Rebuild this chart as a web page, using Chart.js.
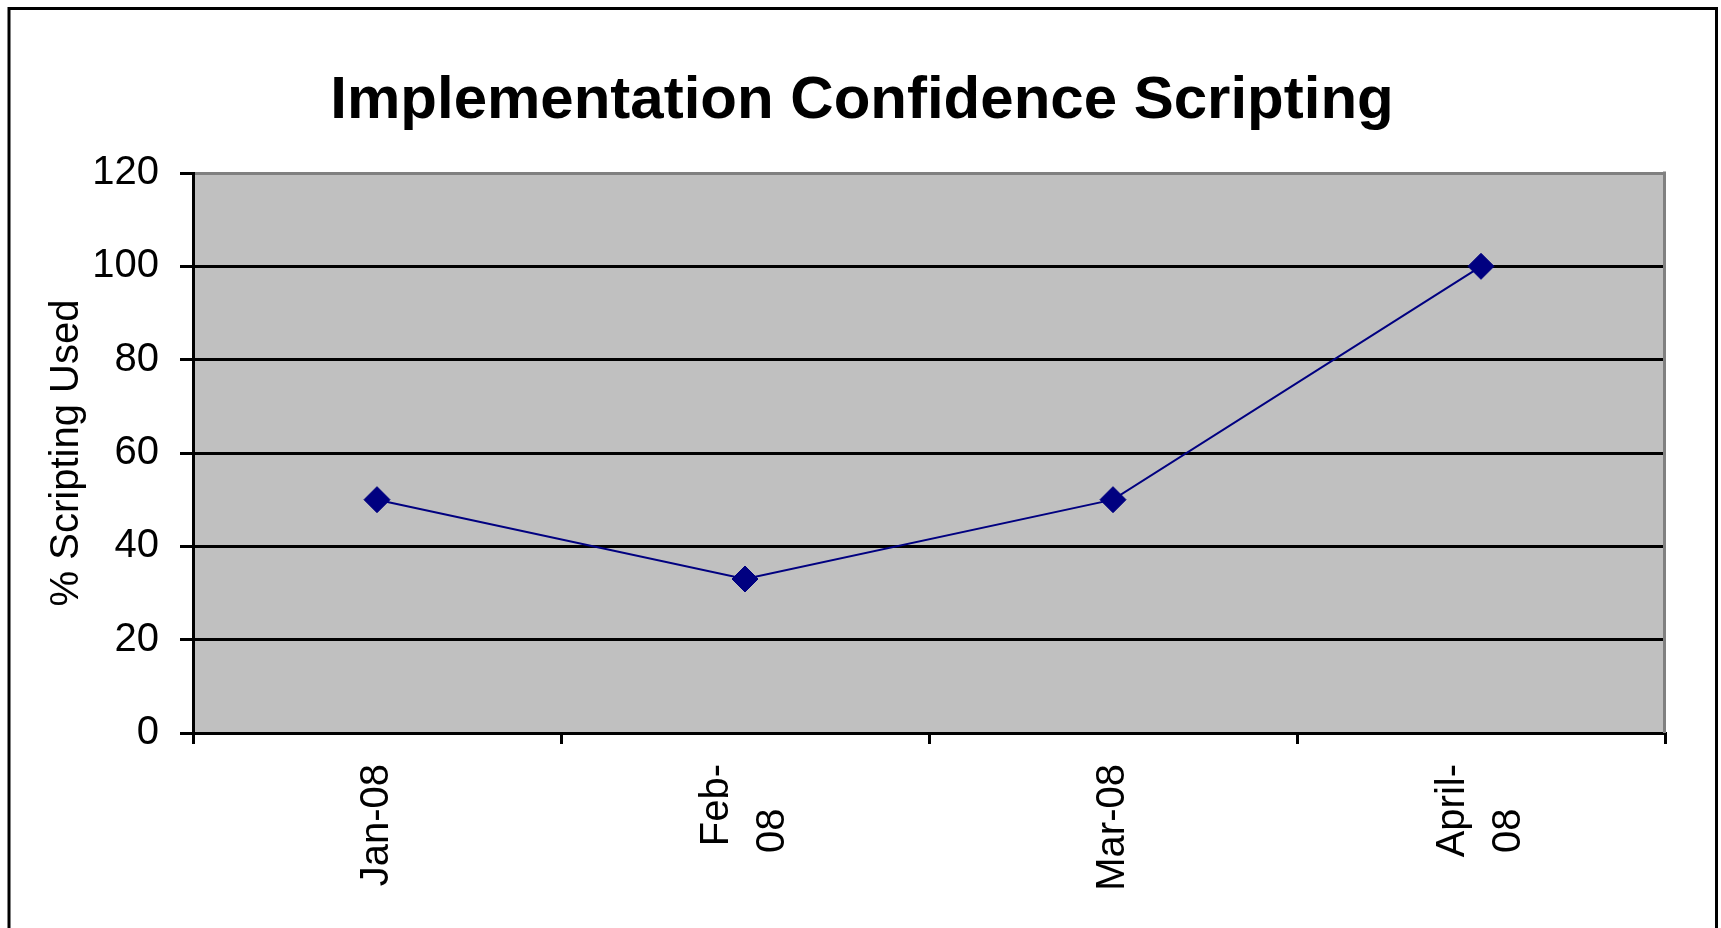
<!DOCTYPE html>
<html>
<head>
<meta charset="utf-8">
<title>Implementation Confidence Scripting</title>
<script src="https://cdn.jsdelivr.net/npm/chart.js@4.4.1/dist/chart.umd.min.js"></script>
<style>
  html, body { margin: 0; padding: 0; background: #fff; }
  #wrap { position: relative; width: 1721px; height: 928px; }
</style>
</head>
<body>
<div id="wrap"><canvas id="myChart"></canvas></div>
<script>
  // values
  const categories = ['Jan-08', ['Feb-', '08'], 'Mar-08', ['April-', '08']];
  const scriptingUsed = [50, 33, 50, 100];
  const yTicks = [0, 20, 40, 60, 80, 100, 120];

  const FONT = "'Liberation Sans', Arial, sans-serif";

  // grey plot area, grey right edge and the black frame round the chart
  const excelFrame = {
    id: 'excelFrame',
    beforeDraw(chart) {
      const { ctx, chartArea: a } = chart;
      ctx.save();
      ctx.fillStyle = '#c0c0c0';
      ctx.fillRect(a.left, a.top, a.right - a.left, a.bottom - a.top);
      ctx.restore();
    },
    beforeDatasetsDraw(chart) {
      const { ctx, chartArea: a } = chart;
      ctx.save();
      ctx.strokeStyle = '#808080';
      ctx.lineWidth = 3;
      ctx.beginPath();
      ctx.moveTo(a.right - 0.5, a.top - 1.5);
      ctx.lineTo(a.right - 0.5, a.bottom);
      ctx.stroke();
      ctx.restore();
    },
    afterDraw(chart) {
      const ctx = chart.ctx;
      ctx.save();
      ctx.strokeStyle = '#000';
      ctx.lineWidth = 3;
      ctx.strokeRect(9, 8.5, 1707.5, 1000);
      ctx.restore();
    }
  };

  const ctx = document.getElementById('myChart').getContext('2d');
  const myChart = new Chart(ctx, {
    type: 'line',
    data: {
      labels: categories,
      datasets: [{
        label: '% Scripting Used',
        data: scriptingUsed,
        borderColor: '#000080',
        backgroundColor: '#000080',
        borderWidth: 2,
        tension: 0,
        fill: false,
        pointStyle: 'rectRot',
        pointRadius: 13,
        pointBorderWidth: 1,
        pointBackgroundColor: '#000080',
        pointBorderColor: '#000080'
      }]
    },
    options: {
      responsive: true,
      maintainAspectRatio: false,
      animation: false,
      layout: { padding: { left: 59, right: 56, top: 0, bottom: 0 } },
      plugins: {
        legend: { display: false },
        tooltip: { enabled: false },
        title: {
          display: true,
          text: 'Implementation Confidence Scripting',
          color: '#000',
          font: { family: FONT, size: 60, weight: 'bold', lineHeight: 1.2 },
          padding: { top: 65, bottom: 36 }
        }
      },
      scales: {
        x: {
          offset: true,
          grid: {
            offset: true,
            drawOnChartArea: false,
            color: '#000',
            tickColor: '#000',
            lineWidth: 3,
            tickLength: 11
          },
          border: { color: '#000', width: 3 },
          ticks: {
            color: '#000',
            font: { family: FONT, size: 40, lineHeight: 0.7 },
            minRotation: 90,
            maxRotation: 90,
            autoSkip: false,
            padding: 20,
            labelOffset: -28,
            // two-line labels sit centred on the tick, second line start-aligned
            callback: function (value, index) {
              const lab = categories[index];
              if (Array.isArray(lab)) return [lab[0], '', lab[1] + '    '];
              return ['', lab];
            }
          },
          afterFit(scale) { scale.height = 195; }
        },
        y: {
          min: yTicks[0],
          max: yTicks[yTicks.length - 1],
          ticks: {
            stepSize: yTicks[1] - yTicks[0],
            color: '#000',
            font: { family: FONT, size: 40 },
            padding: 21
          },
          grid: {
            color: (c) => (c.tick && c.tick.value === yTicks[yTicks.length - 1]) ? '#808080' : '#000',
            tickColor: '#000',
            lineWidth: 3,
            tickLength: 13
          },
          border: { color: '#000', width: 3 },
          title: {
            display: true,
            text: '% Scripting Used',
            color: '#000',
            font: { family: FONT, size: 40, lineHeight: 1.2 },
            padding: { top: -16, bottom: 0 }
          },
          afterFit(scale) { scale.width = 134; }
        }
      }
    },
    plugins: [excelFrame]
  });
</script>
</body>
</html>
